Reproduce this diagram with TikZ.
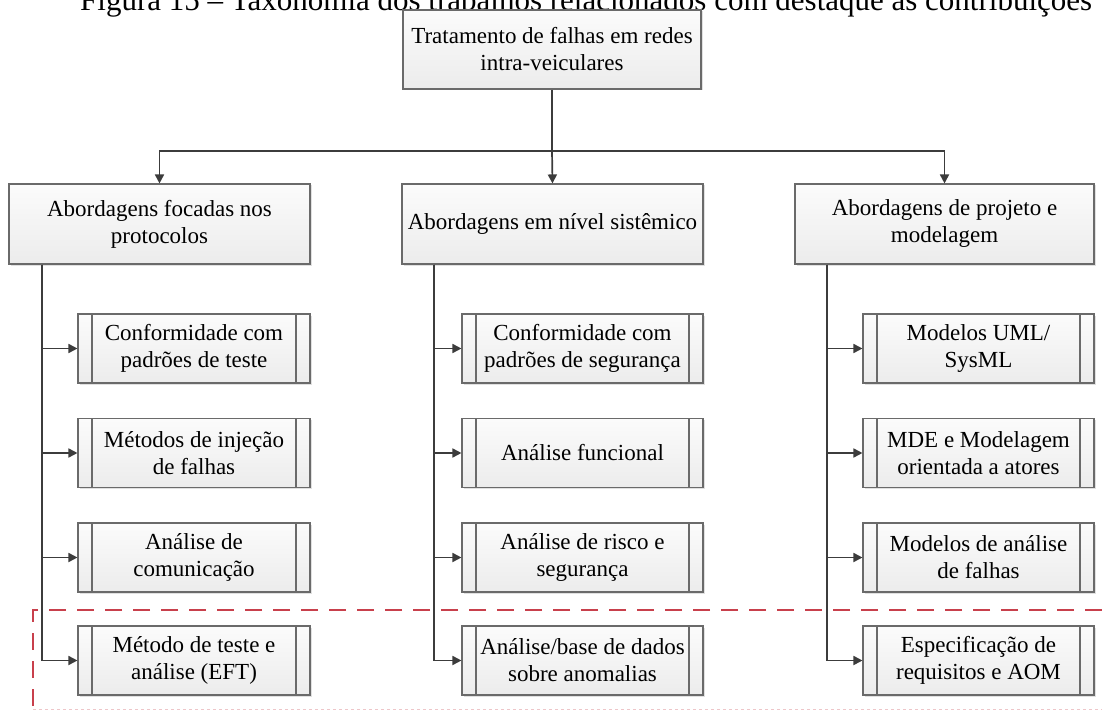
\documentclass[tikz,border=0pt]{standalone}
\usepackage{fontspec}
\setmainfont{Liberation Serif}
\usetikzlibrary{arrows.meta,shadows,calc}
\definecolor{linegray}{HTML}{3C3C3C}
\definecolor{boxedge}{HTML}{6A6A6A}
\definecolor{hlred}{HTML}{C8404C}
\begin{document}
\begin{tikzpicture}[x=1pt,y=-1pt,
  box/.style={draw=boxedge, line width=1.1pt, top color=gray!3, bottom color=gray!15,
    inner sep=0pt, align=center, font=\fontsize{23}{27}\selectfont,
    drop shadow={shadow xshift=1.5pt, shadow yshift=-1.5pt, fill=black, opacity=0.12}},
  topbox/.style={box, minimum width=298pt, minimum height=79pt},
  catbox/.style={box, minimum width=301pt, minimum height=80pt},
  subbox/.style={box, minimum height=69pt,
    path picture={\draw[boxedge, line width=1.1pt]
      ([xshift=14pt]path picture bounding box.north west) -- ([xshift=14pt]path picture bounding box.south west)
      ([xshift=-14pt]path picture bounding box.north east) -- ([xshift=-14pt]path picture bounding box.south east);}},
  conn/.style={draw=linegray, line width=1.7pt, -{Triangle[length=9pt,width=9pt]}},
  trunk/.style={draw=linegray, line width=1.7pt},
  highlight/.style={draw=hlred, line width=1.5pt, dash pattern=on 17pt off 11pt},
]
\useasboundingbox (0,0) rectangle (1102,711);
\clip (0,0) rectangle (1102,711);
\fill[white] (0,0) rectangle (1102,711);

% caption line, cut by the top edge
\node[anchor=base west, inner sep=0pt, font=\fontsize{31}{34}\selectfont] (cap) at (80,11)
  {Figura 15 -- Taxonomia dos trabalhos relacionados com destaque às contribuições};

% highlighted contribution region
\coordinate (hlA) at (1102,610);
\coordinate (hlB) at (33,610);
\coordinate (hlC) at (33,711);
\draw[highlight] (hlA) -- (hlB) -- (hlC);
\draw[draw=hlred!30, line width=1pt, dash pattern=on 3pt off 3pt] (33,709.5) -- (1102,709.5);

% root and categories
\node[topbox] (T) at (552,49.5) {Tratamento de falhas em redes\\intra-veiculares};
\node[catbox] (A) at (159.5,224) {Abordagens focadas nos\\protocolos};
\node[catbox] (B) at (552.5,224) {Abordagens em nível sistêmico};
\node[catbox, minimum width=299pt] (C) at (944.5,224) {Abordagens de projeto e\\modelagem};

% sub-items
\tikzset{subA/.style={subbox, minimum width=232pt}, subB/.style={subbox, minimum width=241pt}, subC/.style={subbox, minimum width=231pt}}
\node[subA] (A1) at (194,348.5) {Conformidade com\\padrões de teste};
\node[subA] (A2) at (194,453)   {Métodos de injeção\\de falhas};
\node[subA] (A3) at (194,557.5) {Análise de\\comunicação};
\node[subA] (A4) at (194,660.5) {Método de teste e\\análise (EFT)};
\node[subB] (B1) at (582.5,348.5) {Conformidade com\\padrões de segurança};
\node[subB] (B2) at (582.5,453)   {Análise funcional};
\node[subB] (B3) at (582.5,557.5) {Análise de risco e\\segurança};
\node[subB] (B4) at (582.5,660.5) {Análise/base de dados\\sobre anomalias};
\node[subC] (C1) at (978.5,348.5) {Modelos UML/\\SysML};
\node[subC] (C2) at (978.5,453)   {MDE e Modelagem\\orientada a atores};
\node[subC] (C3) at (978.5,557.5) {Modelos de análise\\de falhas};
\node[subC] (C4) at (978.5,660.5) {Especificação de\\requisitos e AOM};

% root to categories
\coordinate (bus) at (552,151);
\draw[trunk] (T.south) -- (T.south |- bus);
\draw[conn] (T.south |- bus) -| (A.north);
\draw[conn] (T.south |- bus) -| (C.north);
\draw[conn] (T.south |- bus) -- (B.north);

% categories to sub-items
\coordinate (xa) at (42,0);
\coordinate (xb) at (434,0);
\coordinate (xc) at (827,0);
\foreach \i in {1,...,4}{
  \draw[conn] (A.south -| xa) |- (A\i.west);
  \draw[conn] (B.south -| xb) |- (B\i.west);
  \draw[conn] (C.south -| xc) |- (C\i.west);
}
\end{tikzpicture}
\end{document}
